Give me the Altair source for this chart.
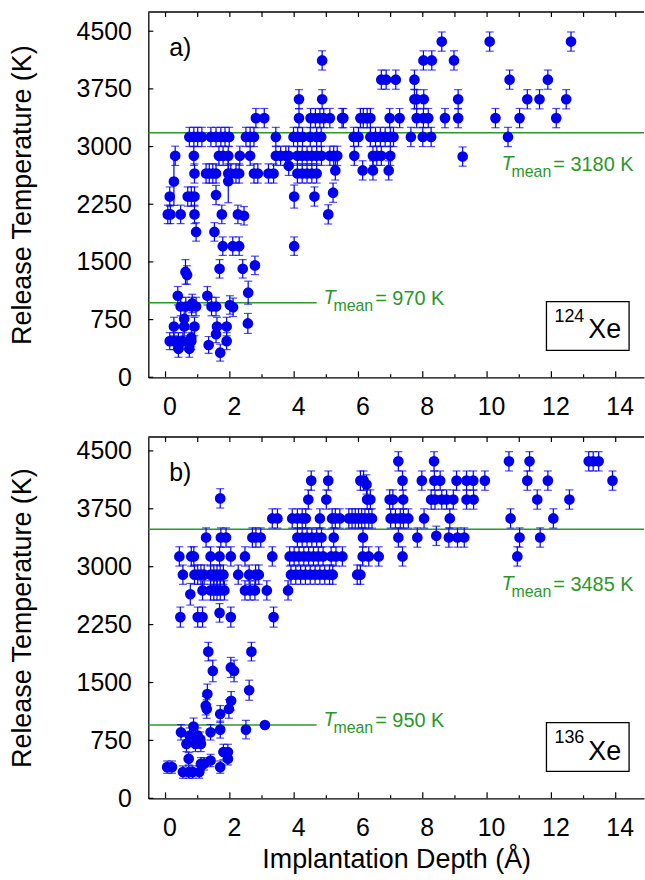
import altair as alt
import pandas as pd

# ---------------- 124Xe release data ----------------
xe124_depth = [
    0.13, 0.26, 0.40, 0.54, 0.80, 1.90, 0.26, 0.58, 0.90, 1.60, 1.90, 0.40, 0.74, 1.34, 1.70, 0.80, 1.57, 2.56, 0.58,
    0.47, 0.63, 0.81, 0.95, 1.43, 1.57, 2.00, 2.10, 0.83, 0.38, 1.30, 2.57, 2.78, 0.62, 0.67, 1.68, 2.40,
    1.78, 2.09, 2.29, 4.00, 0.95, 1.52, 0.07, 0.15, 0.47, 0.90, 1.75, 2.25, 2.44, 0.13, 0.69, 0.80, 0.90, 1.57, 4.00, 4.63, 5.21, 5.06, 0.26, 1.95,
    0.90, 1.26, 1.36, 1.47, 1.57, 1.95, 2.03, 2.19, 2.29, 2.75, 2.87, 3.20, 3.36, 4.10, 4.25, 4.40, 4.55, 4.70, 5.28, 6.13, 6.45, 6.94, 3.83,
    0.30, 0.88, 1.66, 1.79, 1.95, 2.31, 2.63, 3.43, 3.58, 3.74, 3.83, 4.10, 4.25, 4.40, 4.55, 4.70, 4.85, 5.11, 5.23, 5.34, 5.87, 6.45, 6.57, 6.71, 6.99, 9.24,
    0.74, 0.88, 1.00, 1.13, 1.41, 1.57, 1.72, 1.85, 1.98, 2.50, 2.63, 2.75, 3.43, 3.98, 4.11, 4.26, 4.50, 4.70, 4.84, 5.85, 6.00, 6.37, 6.53, 6.68, 6.83, 6.99, 7.09, 7.63, 8.00, 8.26, 10.65,
    2.81, 3.07, 4.15, 4.51, 4.66, 4.80, 4.92, 5.11, 5.49, 5.53, 6.06, 6.15, 6.27, 6.37, 6.97, 7.28, 7.81, 8.02, 8.17, 8.69, 9.10, 10.26, 11.01, 12.15,
    4.15, 4.87, 7.74, 7.81, 8.03, 9.10, 11.25, 11.63, 12.46,
    6.71, 6.86, 7.16, 7.74, 10.70, 11.89,
    4.87, 8.02, 8.28, 8.97,
    8.59, 10.08, 12.61,
]
xe124_temp = [
    470, 470, 470, 470, 470, 470, 660, 660, 660, 660, 660, 370, 370, 420, 320, 515, 560, 700, 760,
    920, 920, 920, 920, 920, 920, 940, 910, 960, 1060, 1060, 1100, 1455, 1370, 1330, 1410, 1410,
    1705, 1705, 1705, 1705, 1890, 1890, 2118, 2118, 2118, 2118, 2118, 2118, 2100, 2350, 2350, 2350, 2350, 2370, 2350, 2350, 2400, 2118, 2545, 2550,
    2650, 2650, 2650, 2650, 2650, 2650, 2650, 2650, 2650, 2650, 2650, 2650, 2650, 2650, 2650, 2650, 2650, 2650, 2690, 2690, 2690, 2690, 2750,
    2880, 2880, 2880, 2880, 2880, 2880, 2880, 2880, 2880, 2880, 2880, 2880, 2880, 2880, 2880, 2880, 2880, 2880, 2880, 2880, 2880, 2880, 2880, 2880, 2880, 2870,
    3125, 3125, 3125, 3125, 3125, 3125, 3125, 3125, 3125, 3125, 3125, 3125, 3125, 3125, 3125, 3125, 3125, 3125, 3125, 3125, 3125, 3125, 3125, 3125, 3125, 3125, 3125, 3125, 3125, 3125, 3125,
    3370, 3370, 3370, 3370, 3370, 3370, 3370, 3370, 3370, 3370, 3370, 3370, 3370, 3370, 3370, 3370, 3370, 3370, 3370, 3370, 3370, 3370, 3370, 3370,
    3615, 3615, 3615, 3615, 3615, 3615, 3615, 3615, 3615,
    3870, 3870, 3870, 3870, 3870, 3870,
    4120, 4120, 4120, 4120,
    4365, 4365, 4365,
]
xe124_err = [
    110, 110, 110, 110, 110, 110, 120, 120, 120, 120, 120, 110, 110, 110, 110, 110, 110, 130, 110,
    120, 120, 120, 120, 120, 120, 120, 120, 120, 120, 120, 150, 120, 160, 120, 120, 120,
    120, 120, 120, 120, 120, 120, 120, 120, 120, 120, 120, 120, 120, 125, 125, 125, 125, 125, 150, 125, 125, 125, 310, 280,
    125, 125, 125, 125, 125, 125, 125, 125, 125, 125, 125, 125, 125, 125, 125, 125, 125, 125, 125, 125, 125, 125, 125,
    125, 125, 125, 125, 125, 125, 125, 125, 125, 125, 125, 125, 125, 125, 125, 125, 125, 125, 125, 125, 125, 125, 125, 125, 125, 125,
    125, 125, 125, 125, 125, 125, 125, 125, 125, 125, 125, 125, 125, 125, 125, 125, 125, 125, 125, 125, 125, 125, 125, 125, 125, 125, 125, 125, 125, 125, 125,
    125, 125, 125, 125, 125, 125, 125, 125, 125, 125, 125, 125, 125, 125, 125, 125, 125, 125, 125, 125, 125, 125, 125, 125,
    125, 125, 125, 125, 125, 125, 125, 125, 125,
    125, 125, 125, 125, 125, 125,
    125, 125, 125, 125,
    125, 125, 125,
]

# ---------------- 136Xe release data ----------------
xe136_depth = [
    0.05, 0.20, 1.70, 0.54, 0.72, 0.85, 1.05, 1.10, 1.20, 1.40, 0.72, 1.94, 1.80, 1.94, 0.65, 0.93, 1.10, 1.08, 0.75, 1.00, 0.48, 1.40, 0.87, 1.70, 2.50, 3.09,
    1.70, 1.25, 1.28, 1.97, 2.04, 1.30, 2.60, 2.03, 1.47, 2.13, 1.33, 2.67,
    0.46, 1.00, 1.15, 2.03, 3.36, 1.68, 0.77,
    1.15, 1.40, 1.50, 1.60, 1.70, 1.83, 2.47, 2.63, 2.78, 3.15, 3.81,
    0.54, 0.90, 1.00, 1.10, 1.20, 1.40, 1.50, 1.60, 1.70, 1.80, 2.26, 2.60, 2.80, 2.90, 3.90, 4.05, 4.20, 4.35, 4.50, 4.65, 4.80, 4.95, 5.10, 5.20, 5.96, 6.06,
    0.43, 0.80, 0.88, 1.40, 1.68, 2.03, 2.47, 3.32, 3.86, 4.00, 4.15, 4.30, 4.45, 4.60, 4.75, 4.90, 5.15, 5.30, 5.50, 6.13, 6.32, 6.63, 7.37, 10.94,
    1.26, 1.72, 1.88, 2.70, 2.81, 2.96, 4.10, 4.25, 4.40, 4.55, 4.70, 4.85, 5.23, 6.14, 7.24, 7.83, 8.42, 8.81, 9.08, 9.29, 11.01, 11.65,
    3.32, 3.48, 3.94, 4.10, 4.25, 4.36, 4.80, 5.18, 5.28, 5.42, 5.70, 5.80, 5.90, 6.00, 6.10, 6.20, 6.32, 6.42, 7.00, 7.15, 7.30, 7.40, 7.55, 8.04, 8.84, 10.73, 12.06,
    1.70, 4.44, 5.00, 6.27, 6.37, 6.97, 7.07, 7.39, 8.26, 8.38, 8.59, 8.74, 8.95, 9.36, 9.58, 11.56, 12.56,
    4.53, 5.06, 6.06, 6.16, 6.25, 7.37, 7.97, 8.36, 8.54, 9.05, 9.36, 9.57, 9.93, 11.25, 11.89, 13.90,
    7.24, 8.35, 10.68, 11.32, 13.16, 13.30, 13.47,
]
xe136_temp = [
    404, 404, 404, 340, 340, 340, 340, 447, 447, 490, 512, 512, 600, 600, 705, 705, 705, 760, 812, 812, 855, 855, 930, 890, 890, 950,
    1092, 1200, 1157, 1157, 1263, 1350, 1400, 1695, 1650, 1650, 1900, 1900,
    2347, 2347, 2347, 2347, 2347, 2402, 2643,
    2693, 2693, 2693, 2693, 2693, 2693, 2693, 2693, 2693, 2693, 2693,
    2897, 2897, 2897, 2897, 2897, 2897, 2897, 2897, 2897, 2897, 2897, 2897, 2897, 2897, 2897, 2897, 2897, 2897, 2897, 2897, 2897, 2897, 2897, 2897, 2897, 2897,
    3133, 3133, 3133, 3133, 3133, 3133, 3133, 3133, 3133, 3133, 3133, 3133, 3133, 3133, 3133, 3133, 3133, 3133, 3133, 3133, 3133, 3133, 3133, 3133,
    3378, 3378, 3378, 3378, 3378, 3378, 3378, 3378, 3378, 3378, 3378, 3378, 3378, 3378, 3378, 3378, 3400, 3378, 3378, 3378, 3378, 3378,
    3625, 3625, 3625, 3625, 3625, 3625, 3625, 3625, 3625, 3625, 3625, 3625, 3625, 3625, 3625, 3625, 3625, 3625, 3625, 3625, 3625, 3625, 3625, 3625, 3625, 3625, 3625,
    3885, 3870, 3870, 3870, 3870, 3870, 3870, 3870, 3870, 3870, 3870, 3870, 3870, 3870, 3870, 3870, 3870,
    4115, 4115, 4115, 4115, 4065, 4115, 4115, 4115, 4115, 4115, 4115, 4115, 4115, 4115, 4115, 4115,
    4365, 4365, 4365, 4365, 4365, 4365, 4365,
]
xe136_err = [
    80, 80, 80, 80, 80, 80, 80, 80, 80, 80, 80, 80, 100, 100, 100, 100, 100, 100, 100, 100, 100, 100, 110, 110, 120, 0,
    110, 120, 120, 120, 120, 130, 130, 130, 140, 140, 120, 120,
    130, 130, 130, 130, 130, 120, 140,
    125, 125, 125, 125, 125, 125, 125, 125, 125, 125, 125,
    125, 125, 125, 125, 125, 125, 125, 125, 125, 125, 125, 125, 125, 125, 125, 125, 125, 125, 125, 125, 125, 125, 125, 125, 125, 125,
    125, 125, 125, 125, 125, 125, 125, 125, 125, 125, 125, 125, 125, 125, 125, 125, 125, 125, 125, 125, 125, 125, 125, 125,
    125, 125, 125, 125, 125, 125, 125, 125, 125, 125, 125, 125, 125, 125, 125, 125, 125, 125, 125, 125, 125, 125,
    125, 125, 125, 125, 125, 125, 125, 125, 125, 125, 125, 125, 125, 125, 125, 125, 125, 125, 125, 125, 125, 125, 125, 125, 125, 125, 125,
    125, 125, 125, 125, 125, 125, 125, 125, 125, 125, 125, 125, 125, 125, 125, 125, 125,
    125, 125, 125, 125, 125, 125, 125, 125, 125, 125, 125, 125, 125, 125, 125, 125,
    125, 125, 125, 125, 125, 125, 125,
]

# Mean release temperatures of the two populations
xe124_means = [970, 3180]
xe136_means = [950, 3485]

x_ticks_major = [0, 2, 4, 6, 8, 10, 12, 14]
x_ticks_minor = [1, 3, 5, 7, 9, 11, 13]
y_ticks = [0, 750, 1500, 2250, 3000, 3750, 4500]

BLUE = "#0000ee"
GREEN = "#2b972b"
FONT = "Liberation Sans"
X_MIN, X_MAX = -0.536, 14.88
W = 498


def panel(depth, temp, err, means, high_dy, tag, mass, ymax, h, x_title):
    df = pd.DataFrame({"depth": depth, "temp": temp, "err": err})
    df["lo"] = df["temp"] - df["err"]
    df["hi"] = df["temp"] + df["err"]

    xs = alt.Scale(domain=[X_MIN, X_MAX], nice=False, zero=False)
    ys = alt.Scale(domain=[0, ymax], nice=False, zero=False)

    # every layer carries the same axis definition so that they merge into one
    x_axis = alt.Axis(values=x_ticks_major, ticks=False, grid=False, labelPadding=17, labelOffset=4,
                      title=x_title if x_title else "", titlePadding=7, labelFlush=False)
    y_axis = alt.Axis(values=y_ticks, ticks=False, grid=False, labelPadding=17, format="d",
                      title="Release Temperature (K)", titlePadding=40, labelFlush=False)

    def X(field):
        return alt.X(field, scale=xs, axis=x_axis)

    def Y(field):
        return alt.Y(field, scale=ys, axis=y_axis)

    base = alt.Chart(df)

    bars = base.mark_rule(color=BLUE, strokeWidth=1.2).encode(
        x=X("depth:Q"), y=Y("lo:Q"), y2="hi:Q")
    cap_lo = base.mark_tick(orient="horizontal", color=BLUE, size=8, thickness=1.2).encode(
        x=X("depth:Q"), y=Y("lo:Q"))
    cap_hi = base.mark_tick(orient="horizontal", color=BLUE, size=8, thickness=1.2).encode(
        x=X("depth:Q"), y=Y("hi:Q"))
    pts = base.mark_circle(size=115, opacity=1, color=BLUE).encode(
        x=X("depth:Q"), y=Y("temp:Q"))

    # mean lines: low population stops near 4.7 Å, high one spans the frame
    mdf = pd.DataFrame({"temp": means, "depth": [X_MIN, X_MIN], "x1": [4.7, X_MAX]})
    mlines = alt.Chart(mdf).mark_rule(color=GREEN, strokeWidth=1.6).encode(
        x=X("depth:Q"), x2="x1:Q", y=Y("temp:Q"))

    # inward ticks and the top frame line
    ytk = alt.Chart(pd.DataFrame({"temp": y_ticks})).mark_rule(color="black", strokeWidth=1.2).encode(
        y=Y("temp:Q"), x=alt.value(0), x2=alt.value(5))
    xmaj = alt.Chart(pd.DataFrame({"depth": x_ticks_major})).mark_rule(color="black", strokeWidth=1.2).encode(
        x=X("depth:Q"), y=alt.value(h), y2=alt.value(h - 6))
    xmin = alt.Chart(pd.DataFrame({"depth": x_ticks_minor})).mark_rule(color="black", strokeWidth=1.2).encode(
        x=X("depth:Q"), y=alt.value(h), y2=alt.value(h - 3))
    xtop = alt.Chart(pd.DataFrame({"depth": x_ticks_major + x_ticks_minor})).mark_rule(
        color="black", strokeWidth=1.2).encode(
        x=X("depth:Q"), y=alt.value(0), y2=alt.value(5))
    frame_top = alt.Chart(pd.DataFrame({"k": [0]})).mark_rule(color="black", strokeWidth=1.3).encode(
        x=alt.value(0), x2=alt.value(W), y=alt.value(0))

    one = pd.DataFrame({"k": [0]})
    tag_txt = alt.Chart(one).mark_text(text=tag, font=FONT, fontSize=25, align="left",
                                       baseline="alphabetic", color="black").encode(
        x=alt.value(21), y=alt.value(44))
    box = alt.Chart(one).mark_rect(fill="white", stroke="black", strokeWidth=1.3).encode(
        x=alt.value(400), x2=alt.value(483), y=alt.value(h - 76), y2=alt.value(h - 27))
    iso_mass = alt.Chart(one).mark_text(text=mass, font=FONT, fontSize=18, align="left",
                                        baseline="alphabetic", color="black").encode(
        x=alt.value(408), y=alt.value(h - 56))
    iso_el = alt.Chart(one).mark_text(text="Xe", font=FONT, fontSize=27, align="left",
                                      baseline="alphabetic", color="black").encode(
        x=alt.value(442), y=alt.value(h - 39))

    # T_mean annotations, anchored at the mean value they describe
    labels = []
    for value, x_at, dy in [(means[0], 4.91, 1), (means[1], 10.45, high_dy)]:
        src = alt.Chart(pd.DataFrame({"depth": [x_at], "temp": [value], "txt": [f"= {value} K"]}))
        labels.append(src.mark_text(text="T", font=FONT, fontSize=20, fontStyle="italic", color=GREEN,
                                    align="left", baseline="alphabetic", dy=dy).encode(
            x=X("depth:Q"), y=Y("temp:Q")))
        labels.append(src.mark_text(text="mean", font=FONT, fontSize=16, color=GREEN,
                                    align="left", baseline="alphabetic", dx=10, dy=dy + 7).encode(
            x=X("depth:Q"), y=Y("temp:Q")))
        labels.append(src.mark_text(font=FONT, fontSize=20, color=GREEN,
                                    align="left", baseline="alphabetic", dx=52, dy=dy + 1).encode(
            x=X("depth:Q"), y=Y("temp:Q"), text="txt:N"))

    return alt.layer(
        mlines, bars, cap_lo, cap_hi, pts, ytk, xmaj, xmin, xtop, frame_top,
        tag_txt, box, iso_mass, iso_el, *labels
    ).properties(width=W, height=h)


top = panel(xe124_depth, xe124_temp, xe124_err, xe124_means, 37, "a)", "124", 4750, 367, None)
bottom = panel(xe136_depth, xe136_temp, xe136_err, xe136_means, 61, "b)", "136", 4680, 363,
               "Implantation Depth (Å)")

chart = alt.vconcat(top, bottom, spacing=17).properties(
    padding={"left": 8, "top": 9, "right": 0, "bottom": 0}
).configure_view(stroke=None).configure_axis(
    labelFont=FONT, titleFont=FONT, labelFontSize=25, titleFontSize=27,
    titleFontWeight="normal", labelColor="black", titleColor="black",
    domainColor="black", domainWidth=1.3,
)

chart.save("out.html", embed_options={"renderer": "svg", "actions": False})
